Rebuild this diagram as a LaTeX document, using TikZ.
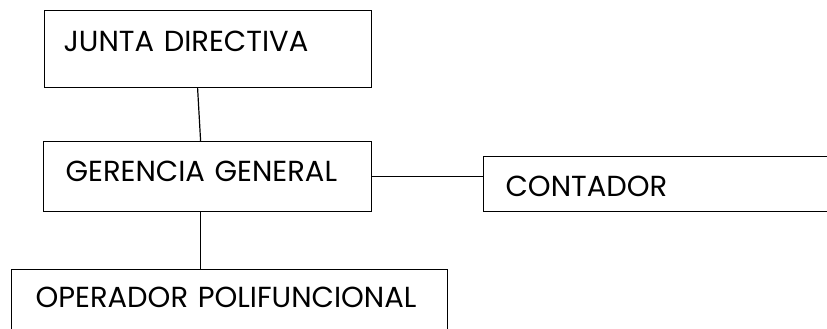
\documentclass[tikz,border=0pt]{standalone}
\usepackage{fontspec}
\setmainfont{Poppins}
\begin{document}
\begin{tikzpicture}[x=1pt,y=-1pt,
  orgbox/.style={draw=black, line width=1.2pt, anchor=north west, inner ysep=0pt,
    align=left, font=\fontsize{29}{33}\selectfont, text height=#1},
  conn/.style={draw=black, line width=1.2pt}]
\useasboundingbox (0,0) rectangle (827,329);
\clip (0,0) rectangle (827,329);
\node[orgbox=41pt, inner xsep=19pt, text width=289pt, text depth=36pt] (j) at (44,10) {JUNTA DIRECTIVA};
\node[orgbox=40pt, inner xsep=22pt, text width=284pt, text depth=30pt] (g) at (43,141) {GERENCIA GENERAL};
\node[orgbox=40pt, inner xsep=22pt, text width=330pt, text depth=15pt] (c) at (483,156) {CONTADOR};
\node[orgbox=38pt, inner xsep=24pt, text width=388pt, text depth=33pt] (o) at (11,269) {OPERADOR POLIFUNCIONAL};
\draw[conn] ([xshift=-10.5pt]j.south) -- ([xshift=-7pt]g.north);
\draw[conn] (g.east) -- (g.east -| c.west);
\draw[conn] ([xshift=-7pt]g.south) -- ([xshift=-7pt]g.south |- o.north);
\end{tikzpicture}
\end{document}
